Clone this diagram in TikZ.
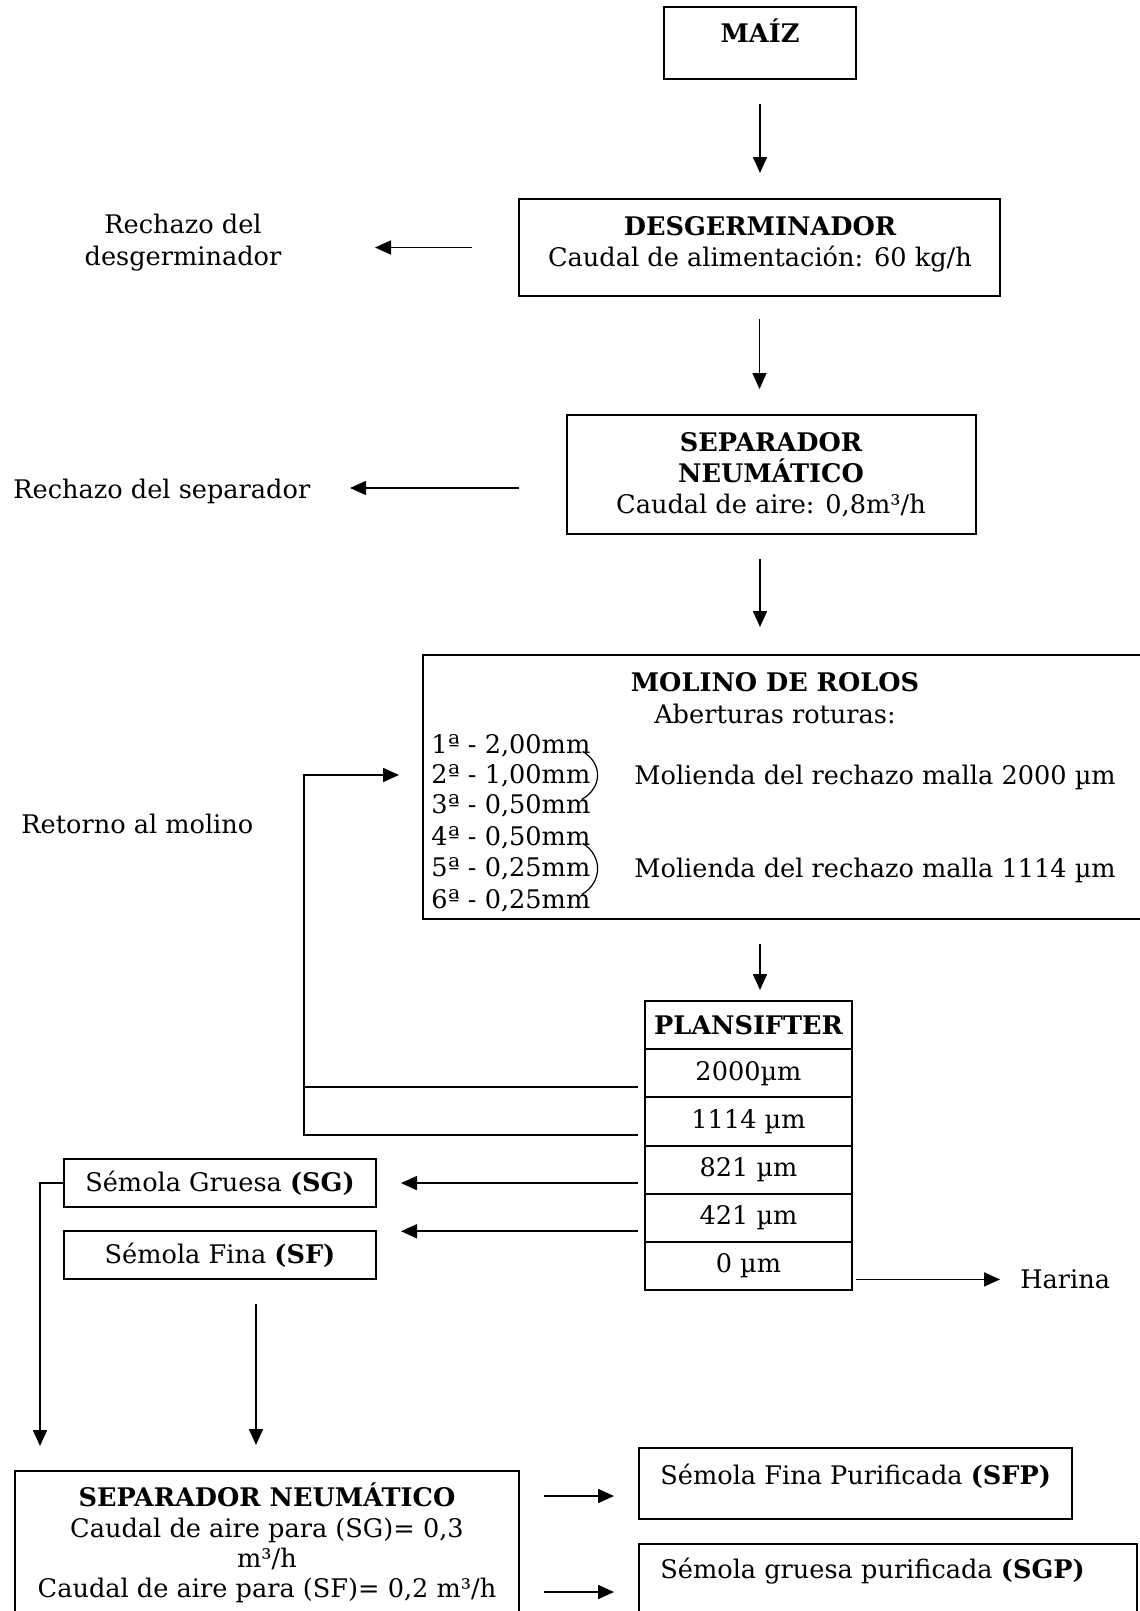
\documentclass[tikz,border=0pt]{standalone}
\usepackage{fontspec}
\setmainfont{DejaVu Serif}
\usetikzlibrary{arrows.meta}
\newcommand\myfs{\fontsize{12.8pt}{15.5pt}\selectfont}
\begin{document}
\begin{tikzpicture}[x=0.5pt,y=-0.5pt,
  every node/.style={font=\myfs, inner sep=0pt},
  box/.style={draw, line width=1pt, inner sep=0pt},
  row/.style={box, minimum width=103.5pt, minimum height=24.083pt},
  arr/.style={line width=0.85pt, -{Triangle[length=8pt,width=7pt]}},
  ln/.style={line width=0.85pt},
  lbl/.style={anchor=mid},
  lblb/.style={anchor=mid, font=\myfs\bfseries},
  lw/.style={anchor=mid west},
  brc/.style={line width=0.6pt},
  ]
\useasboundingbox (0,0) rectangle (1140,1611);
\fill[white] (0,0) rectangle (1140,1611);
\clip (0,0) rectangle (1140,1611);

% boxes
\node[box, minimum width=96pt, minimum height=36pt] (maiz) at (760,43) {};
\node[lblb] (maizt) at (760,37) {MAÍZ};

\node[box, minimum width=240.5pt, minimum height=48.5pt] (desg) at (759.5,247.5) {};
\node[lblb] (desgt1) at (760,230) {DESGERMINADOR};
\node[lbl] (desgt2) at (760,261) {Caudal de alimentación: 60 kg/h};

\node[box, minimum width=204.5pt, minimum height=59.5pt] (sep) at (771.5,474.5) {};
\node[lblb] (sept1) at (771,446) {SEPARADOR};
\node[lblb] (sept2) at (771,477) {NEUMÁTICO};
\node[lbl] (sept3) at (771,508) {Caudal de aire: 0,8m³/h};

\node[box, minimum width=363.5pt, minimum height=132pt] (mol) at (786.5,787) {};
\node[lblb] (molt1) at (775,686) {MOLINO DE ROLOS};
\node[lbl] (molt2) at (775,718) {Aberturas roturas:};
\begin{scope}
\clip (424,656) rectangle (1140,911);
\node[lw] (l1) at (431,748) {1ª - 2,00mm};
\node[lw] (l2) at (431,778) {2ª - 1,00mm};
\node[lw] (l3) at (431,808) {3ª - 0,50mm};
\node[lw] (l4) at (431,840) {4ª - 0,50mm};
\node[lw] (l5) at (431,871) {5ª - 0,25mm};
\node[lw] (l6) at (431,903) {6ª - 0,25mm};
\end{scope}
\node[lw] (m1) at (634,779) {Molienda del rechazo malla 2000 µm};
\node[lw] (m2) at (634,872) {Molienda del rechazo malla 1114 µm};
\draw[brc] ([xshift=-4pt,yshift=-3pt]l1.east) .. controls ([xshift=6pt,yshift=-9pt]l1.east) and ([xshift=6pt,yshift=9pt]l3.east) .. ([xshift=-4.5pt,yshift=3pt]l3.east);
\draw[brc] ([xshift=-4pt,yshift=-3pt]l4.east) .. controls ([xshift=6pt,yshift=-9pt]l4.east) and ([xshift=6pt,yshift=9pt]l6.east) .. ([xshift=-4.5pt,yshift=3pt]l6.east);

% plansifter
\node[row, font=\myfs\bfseries] (r0) at (748.5,1025.08) {PLANSIFTER};
\node[row] (r1) at (748.5,1073.25) {2000µm};
\node[row] (r2) at (748.5,1121.42) {1114 µm};
\node[row] (r3) at (748.5,1169.58) {821 µm};
\node[row] (r4) at (748.5,1217.75) {421 µm};
\node[row] (r5) at (748.5,1265.92) {0 µm};

\node[box, minimum width=156pt, minimum height=24pt] (sg) at (220,1183) {Sémola Gruesa \textbf{(SG)}};
\node[box, minimum width=156pt, minimum height=24pt] (sf) at (220,1255) {Sémola Fina \textbf{(SF)}};

\node[box, minimum width=252pt, minimum height=84.5pt] (sep2) at (267,1555.5) {};
\node[lblb] (s2t1) at (267,1501) {SEPARADOR NEUMÁTICO};
\node[lbl] (s2t2) at (267,1532) {Caudal de aire para (SG)= 0,3};
\node[lbl] (s2t3) at (267,1562) {m³/h};
\node[lbl] (s2t4) at (267,1592) {Caudal de aire para (SF)= 0,2 m³/h};

\node[box, minimum width=216.5pt, minimum height=35.5pt] (sfp) at (855.5,1483.5) {};
\node[lw] (sfpt) at (660,1479) {Sémola Fina Purificada \textbf{(SFP)}};
\node[box, minimum width=249pt, minimum height=48pt] (sgp) at (888,1592) {};
\node[lw] (sgpt) at (660,1573) {Sémola gruesa purificada \textbf{(SGP)}};

% side labels
\node[lbl] (rd1) at (183,228) {Rechazo del};
\node[lbl] (rd2) at (183,260) {desgerminador};
\node[lw] (rs) at (13,493) {Rechazo del separador};
\node[lw] (ret) at (21,828) {Retorno al molino};
\node[lw] (har) at (1020,1283) {Harina};

% main flow
\draw[arr] ([yshift=-12pt]maiz.south) -- ([yshift=12.5pt]maiz.south |- desg.north);
\draw[arr] ([yshift=-11pt]desg.south) -- ([yshift=12.5pt]desg.south |- sep.north);
\draw[arr] ([yshift=-12pt]maiz.south |- sep.south) -- ([yshift=13.5pt]maiz.south |- mol.north);
\draw[arr] ([yshift=-12pt]maiz.south |- mol.south) -- ([yshift=5pt]maiz.south |- r0.north);

% rejects
\draw[arr] ([xshift=-23pt]desg.west) -- ++(-97,0);
\draw[arr] ([xshift=-23.5pt,yshift=-6.75pt]sep.west) -- ++(-169,0);

% return loop
\coordinate (rv) at (304,775);
\draw[arr] ([xshift=-3pt,yshift=-6.75pt]r2.west) -| (rv) -- ([xshift=-11.5pt]rv -| mol.west);
\draw[ln] ([xshift=-3pt,yshift=-6.75pt]r1.west) -- ([yshift=-6.75pt]rv |- r1.west);

% semolas
\draw[arr] ([xshift=-3pt,yshift=-6.75pt]r3.west) -- ([xshift=12pt,yshift=-6.75pt]sg.east |- r3.west);
\draw[arr] ([xshift=-3pt,yshift=-6.75pt]r4.west) -- ([xshift=12pt,yshift=-6.75pt]sf.east |- r4.west);
\draw[arr] ([xshift=1.5pt,yshift=-6.75pt]r5.east) -- ([xshift=-10pt,yshift=-6.75pt]har.west |- r5.east);

\coordinate (sgd) at (40,1446);
\draw[arr] (sg.west) -| (sgd);
\draw[arr] ([xshift=18pt,yshift=-12pt]sf.south) -- ([xshift=18pt,yshift=12.5pt]sf.south |- sep2.north);

% outputs
\draw[arr] ([xshift=12pt,yshift=-6.25pt]sep2.east |- sfp.west) -- ([xshift=-12pt,yshift=-6.25pt]sfp.west);
\draw[arr] ([xshift=12pt]sep2.east |- sgp.west) -- ([xshift=-12pt]sgp.west);
\end{tikzpicture}
\end{document}
